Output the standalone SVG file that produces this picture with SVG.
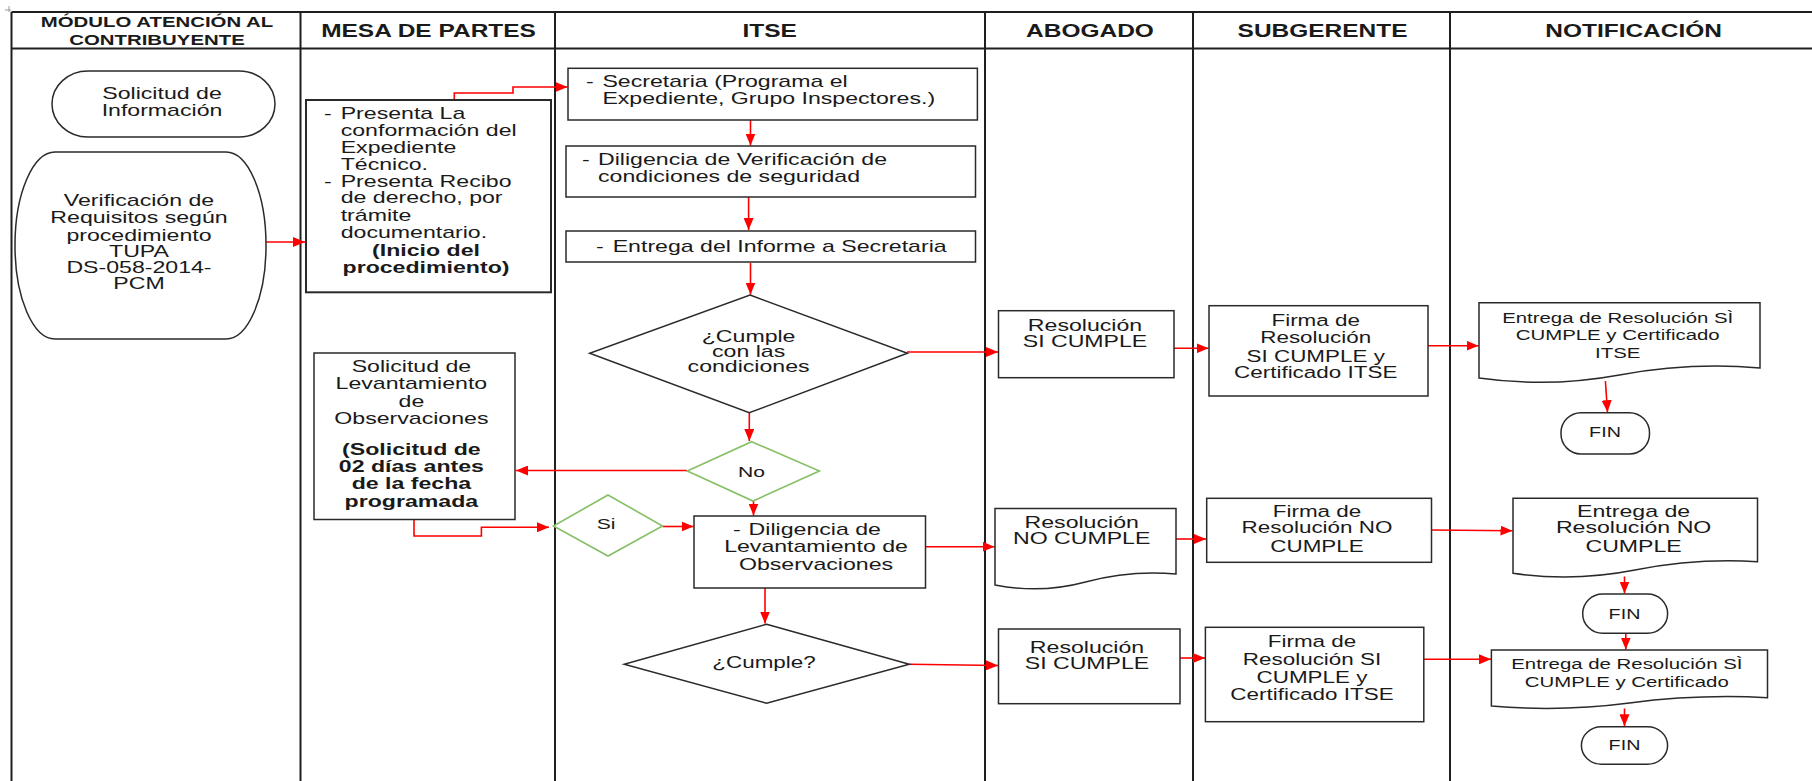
<svg xmlns="http://www.w3.org/2000/svg" width="1812" height="781" viewBox="0 0 1812 781">
  <defs>
    <style>
      text { font-family: "Liberation Sans", Arial, sans-serif; fill: #1a1a1a; font-size: 17px; }
      .c { text-anchor: middle; }
      .b { font-weight: bold; }
      .h { font-weight: bold; font-size: 18px; text-anchor: middle; }
      .h15 { font-weight: bold; font-size: 15px; text-anchor: middle; }
      .s15 { font-size: 15px; }
      .s165 { font-size: 16.5px; }
      .fin { font-size: 14.5px; text-anchor: middle; }
      .box { fill: #ffffff; stroke: #2a2a2a; stroke-width: 1.5; }
      .box2 { fill: #ffffff; stroke: #2a2a2a; stroke-width: 2; }
      .dec-g { fill: #ffffff; stroke: #86bf66; stroke-width: 1.6; }
      .lane { fill: none; stroke: #1f1f1f; stroke-width: 2; }
      .flow { fill: none; stroke: #ff0000; stroke-width: 1.6; marker-end: url(#ah); }
    </style>
    <marker id="ah" markerUnits="userSpaceOnUse" markerWidth="12" markerHeight="10" refX="12" refY="5" orient="auto">
      <path d="M0,0 L12,5 L0,10 z" fill="#ff0000"/>
    </marker>
  </defs>

  <rect width="1812" height="781" fill="#ffffff"/>

  <!-- corner mark -->
  <path d="M5,10 H11 M9,6 V12" stroke="#9a9a9a" stroke-width="1" fill="none"/>

  <!-- swimlane grid -->
  <g id="lanes">
    <path class="lane" d="M11.5,12 H1812 M11.5,48.5 H1812"/>
    <path class="lane" d="M11.5,12 V781 M300.5,12 V781 M555,12 V781 M985,12 V781 M1193,12 V781 M1450,12 V781"/>
    <g transform="translate(157 0) scale(1.36 1)">
      <text class="h15" x="0" y="26.7">MÓDULO ATENCIÓN AL</text>
      <text class="h15" x="0" y="45">CONTRIBUYENTE</text>
    </g>
    <g transform="translate(428.5 0) scale(1.36 1)"><text class="h" x="0" y="36.7">MESA DE PARTES</text></g>
    <g transform="translate(769.6 0) scale(1.36 1)"><text class="h" x="0" y="36.7">ITSE</text></g>
    <g transform="translate(1090 0) scale(1.36 1)"><text class="h" x="0" y="36.7">ABOGADO</text></g>
    <g transform="translate(1322.5 0) scale(1.36 1)"><text class="h" x="0" y="36.7">SUBGERENTE</text></g>
    <g transform="translate(1633.6 0) scale(1.36 1)"><text class="h" x="0" y="36.7">NOTIFICACIÓN</text></g>
  </g>

  <!-- connectors -->
  <g id="connectors">
    <path class="flow" d="M266,242 H305"/>
    <path class="flow" d="M454.3,100 V93 H513 V87 H567.5"/>
    <path class="flow" d="M750.5,120 V145.5"/>
    <path class="flow" d="M748.6,197 V230"/>
    <path class="flow" d="M750.5,263 V294.5"/>
    <path class="flow" d="M907,352 H998"/>
    <path class="flow" d="M749.3,413 V441"/>
    <path class="flow" d="M687,470.5 H516"/>
    <path class="flow" d="M753.5,501 V515.5"/>
    <path class="flow" d="M414,519.5 V536 H481.4 V527.3 H549"/>
    <path class="flow" d="M662.5,526.5 H693.5"/>
    <path class="flow" d="M925.5,546.7 H994.5"/>
    <path class="flow" d="M765,588 V623.5"/>
    <path class="flow" d="M909.3,664.3 L998,665.5"/>
    <path class="flow" d="M1174,348.3 H1208.5"/>
    <path class="flow" d="M1428,345.7 H1478.5"/>
    <path class="flow" d="M1605.4,381 L1607.5,412.2"/>
    <path class="flow" d="M1176,539 H1206"/>
    <path class="flow" d="M1431.5,530 L1512.5,530.7"/>
    <path class="flow" d="M1624.5,576.5 V593.5"/>
    <path class="flow" d="M1625.8,633.5 V649.5"/>
    <path class="flow" d="M1179.5,658 H1205"/>
    <path class="flow" d="M1423.8,659.3 H1491"/>
    <path class="flow" d="M1624.5,708.5 V726.2"/>
  </g>

  <!-- MÓDULO ATENCIÓN AL CONTRIBUYENTE -->
  <g id="n-solicitud-info">
    <rect class="box" x="52" y="71" width="223" height="66" rx="36" ry="33"/>
    <g transform="translate(162 0) scale(1.36 1)">
      <text class="c"><tspan x="0" y="99.3">Solicitud de</tspan><tspan x="0" y="116">Información</tspan></text>
    </g>
  </g>

  <g id="n-verificacion">
    <rect class="box" x="15" y="152" width="251" height="187" rx="40" ry="93"/>
    <g transform="translate(139 0) scale(1.36 1)">
      <text class="c"><tspan x="0" y="206">Verificación de</tspan><tspan x="0" y="223">Requisitos según</tspan><tspan x="0" y="241">procedimiento</tspan><tspan x="0" y="257">TUPA</tspan><tspan x="0" y="273.5">DS-058-2014-</tspan><tspan x="0" y="289.5">PCM</tspan></text>
    </g>
  </g>

  <!-- MESA DE PARTES -->
  <g id="n-mesa">
    <rect class="box2" x="306" y="100" width="245" height="192.3"/>
    <g transform="translate(340.7 0) scale(1.36 1)">
      <text x="-12.3" y="119.3">-</text>
      <text x="-12.3" y="186.7">-</text>
      <text><tspan x="0" y="119.3">Presenta La</tspan><tspan x="0" y="136">conformación del</tspan><tspan x="0" y="153.3">Expediente</tspan><tspan x="0" y="170">Técnico.</tspan><tspan x="0" y="186.7">Presenta Recibo</tspan><tspan x="0" y="203.3">de derecho, por</tspan><tspan x="0" y="221">trámite</tspan><tspan x="0" y="238.3">documentario.</tspan></text>
    </g>
    <g transform="translate(426 0) scale(1.36 1)">
      <text class="c b"><tspan x="0" y="255.7">(Inicio del</tspan><tspan x="0" y="272.7">procedimiento)</tspan></text>
    </g>
  </g>

  <g id="n-sol-lev">
    <rect class="box" x="314" y="353" width="201" height="166.5"/>
    <g transform="translate(411.4 0) scale(1.36 1)">
      <text class="c"><tspan x="0" y="371.7">Solicitud de</tspan><tspan x="0" y="389.3">Levantamiento</tspan><tspan x="0" y="406.7">de</tspan><tspan x="0" y="424">Observaciones</tspan></text>
      <text class="c b"><tspan x="0" y="455">(Solicitud de</tspan><tspan x="0" y="471.7">02 días antes</tspan><tspan x="0" y="489.3">de la fecha</tspan><tspan x="0" y="506.7">programada</tspan></text>
    </g>
  </g>

  <!-- ITSE -->
  <g id="n-secretaria">
    <rect class="box" x="568" y="68.3" width="409.4" height="51.7"/>
    <g transform="translate(602.4 0) scale(1.36 1)">
      <text x="-12.1" y="87.3">-</text>
      <text><tspan x="0" y="87.3">Secretaria (Programa el</tspan><tspan x="0" y="104">Expediente, Grupo Inspectores.)</tspan></text>
    </g>
  </g>

  <g id="n-dil-verif">
    <rect class="box" x="566" y="146" width="409.5" height="51"/>
    <g transform="translate(598 0) scale(1.36 1)">
      <text x="-11.8" y="165">-</text>
      <text><tspan x="0" y="165">Diligencia de Verificación de</tspan><tspan x="0" y="181.7">condiciones de seguridad</tspan></text>
    </g>
  </g>

  <g id="n-entrega-informe">
    <rect class="box" x="566" y="231" width="409.5" height="31"/>
    <g transform="translate(612.7 0) scale(1.36 1)">
      <text x="-12.3" y="251.7">-</text>
      <text x="0" y="251.7">Entrega del Informe a Secretaria</text>
    </g>
  </g>

  <g id="d-cumple-cond">
    <polygon class="box" points="750,295 907.4,353.3 749.3,412.7 589.7,353.3"/>
    <g transform="translate(748.6 0) scale(1.36 1)">
      <text class="c"><tspan x="0" y="341.7">¿Cumple</tspan><tspan x="0" y="356.7">con las</tspan><tspan x="0" y="371.7">condiciones</tspan></text>
    </g>
  </g>

  <g id="d-no">
    <polygon class="dec-g" points="751.6,441.7 819.4,471 753,501 687.3,471"/>
    <g transform="translate(751.6 0) scale(1.36 1)"><text class="c" style="font-size:15.5px" x="0" y="477.3">No</text></g>
  </g>

  <g id="d-si">
    <polygon class="dec-g" points="608,495 662.5,526 608,556 553.5,526"/>
    <g transform="translate(606 0) scale(1.36 1)"><text class="c" style="font-size:15.5px" x="0" y="529.3">Si</text></g>
  </g>

  <g id="n-dil-lev">
    <rect class="box" x="694" y="516" width="231.5" height="72"/>
    <g transform="translate(748.6 0) scale(1.36 1)">
      <text x="-11.5" y="535">-</text>
      <text x="0" y="535">Diligencia de</text>
    </g>
    <g transform="translate(816 0) scale(1.36 1)">
      <text class="c"><tspan x="0" y="552.3">Levantamiento de</tspan><tspan x="0" y="570">Observaciones</tspan></text>
    </g>
  </g>

  <g id="d-cumple">
    <polygon class="box" points="766.6,624.3 909.3,664.3 766.6,703.3 624.2,664.3"/>
    <g transform="translate(764 0) scale(1.36 1)"><text class="c s165" x="0" y="668.3">¿Cumple?</text></g>
  </g>

  <!-- ABOGADO -->
  <g id="n-res-si-1">
    <rect class="box" x="998.5" y="310.7" width="175.5" height="67"/>
    <g transform="translate(1085 0) scale(1.36 1)">
      <text class="c"><tspan x="0" y="330.7">Resolución</tspan><tspan x="0" y="347.3">SI CUMPLE</tspan></text>
    </g>
  </g>

  <g id="n-res-no">
    <path class="box" d="M995,508.5 H1176 V574 Q1130,570 1085.5,582 T995,585 Z"/>
    <g transform="translate(1081.7 0) scale(1.36 1)">
      <text class="c"><tspan x="0" y="528.3">Resolución</tspan><tspan x="0" y="544.3">NO CUMPLE</tspan></text>
    </g>
  </g>

  <g id="n-res-si-2">
    <rect class="box" x="998.5" y="629" width="181.5" height="74.7"/>
    <g transform="translate(1087 0) scale(1.36 1)">
      <text class="c"><tspan x="0" y="653.3">Resolución</tspan><tspan x="0" y="669">SI CUMPLE</tspan></text>
    </g>
  </g>

  <!-- SUBGERENTE -->
  <g id="n-firma-si-1">
    <rect class="box" x="1209" y="305.7" width="219" height="90.3"/>
    <g transform="translate(1315.7 0) scale(1.36 1)">
      <text class="c s165"><tspan x="0" y="326">Firma de</tspan><tspan x="0" y="343.3">Resolución</tspan><tspan x="0" y="361.7">SI CUMPLE y</tspan><tspan x="0" y="378.3">Certificado ITSE</tspan></text>
    </g>
  </g>

  <g id="n-firma-no">
    <rect class="box" x="1206.7" y="498.3" width="224.8" height="64"/>
    <g transform="translate(1317 0) scale(1.36 1)">
      <text class="c s165"><tspan x="0" y="516.7">Firma de</tspan><tspan x="0" y="533.3">Resolución NO</tspan><tspan x="0" y="551.7">CUMPLE</tspan></text>
    </g>
  </g>

  <g id="n-firma-si-2">
    <rect class="box" x="1205.4" y="627.3" width="218.4" height="94.4"/>
    <g transform="translate(1312 0) scale(1.36 1)">
      <text class="c s165"><tspan x="0" y="647.3">Firma de</tspan><tspan x="0" y="665">Resolución SI</tspan><tspan x="0" y="683.3">CUMPLE y</tspan><tspan x="0" y="700">Certificado ITSE</tspan></text>
    </g>
  </g>

  <!-- NOTIFICACIÓN -->
  <g id="n-entrega-si-1">
    <path class="box" d="M1479,302.7 H1760 V368 Q1690,362 1619.5,375 T1479,378 Z"/>
    <g transform="translate(1617.7 0) scale(1.36 1)">
      <text class="c s15"><tspan x="0" y="323.3">Entrega de Resolución SÌ</tspan><tspan x="0" y="340">CUMPLE y Certificado</tspan><tspan x="0" y="358.3">ITSE</tspan></text>
    </g>
  </g>

  <g id="n-fin-1">
    <rect class="box" x="1561" y="412.7" width="88.5" height="41.3" rx="20" ry="20"/>
    <g transform="translate(1605 0) scale(1.36 1)"><text class="fin" x="0" y="437.3">FIN</text></g>
  </g>

  <g id="n-entrega-no">
    <path class="box" d="M1513,498.3 H1757.5 V561.7 Q1696,558 1635,570 T1513,573.3 Z"/>
    <g transform="translate(1633.6 0) scale(1.36 1)">
      <text class="c"><tspan x="0" y="516.7">Entrega de</tspan><tspan x="0" y="533.3">Resolución NO</tspan><tspan x="0" y="551.7">CUMPLE</tspan></text>
    </g>
  </g>

  <g id="n-fin-2">
    <rect class="box" x="1582.7" y="594" width="84.9" height="39.3" rx="20" ry="19.6"/>
    <g transform="translate(1624.5 0) scale(1.36 1)"><text class="fin" x="0" y="619">FIN</text></g>
  </g>

  <g id="n-entrega-si-2">
    <path class="box" d="M1491.4,650 H1767.5 V697.7 Q1698.5,694 1629.5,703 T1491.4,706 Z"/>
    <g transform="translate(1626.8 0) scale(1.36 1)">
      <text class="c s15"><tspan x="0" y="669.3">Entrega de Resolución SÌ</tspan><tspan x="0" y="686.7">CUMPLE y Certificado</tspan></text>
    </g>
  </g>

  <g id="n-fin-3">
    <rect class="box" x="1581.4" y="726.7" width="86.2" height="37.6" rx="20" ry="18.8"/>
    <g transform="translate(1624.5 0) scale(1.36 1)"><text class="fin" x="0" y="750">FIN</text></g>
  </g>
</svg>
